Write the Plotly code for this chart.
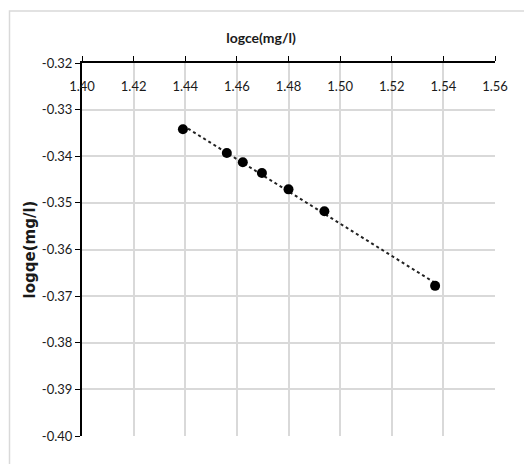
import numpy as np
import plotly.graph_objects as go

# Data
log_ce = [1.4391, 1.4561, 1.4623, 1.4697, 1.4800, 1.4939, 1.5368]
log_qe = [-0.3342, -0.3393, -0.3413, -0.3436, -0.3471, -0.3518, -0.3678]
x_ticks = [1.40, 1.42, 1.44, 1.46, 1.48, 1.50, 1.52, 1.54, 1.56]
y_ticks = [-0.32, -0.33, -0.34, -0.35, -0.36, -0.37, -0.38, -0.39, -0.40]

# Linear trendline (fitted from the data)
slope, intercept = np.polyfit(log_ce, log_qe, 1)
trend_x = [min(log_ce), max(log_ce)]
trend_y = [slope * v + intercept for v in trend_x]

OFF = 8  # default page body margin
W, H = 532 - 2 * OFF, 472 - 2 * OFF
# plot area in page pixels: x 82..495, y 63..436
L, T = 82 - OFF, 63 - OFF
PW, PH = 413, 373
R, B = W - L - PW, H - T - PH

TICK_FONT = "Lato, Open Sans, sans-serif"
TXT = "#1a1a1a"

fig = go.Figure()
fig.add_trace(go.Scatter(x=trend_x, y=trend_y, mode="lines",
                         line=dict(color="#222222", width=2, dash="dot"),
                         showlegend=False, hoverinfo="skip"))
fig.add_trace(go.Scatter(x=log_ce, y=log_qe, mode="markers",
                         marker=dict(color="black", size=10),
                         showlegend=False))

def px_x(p):  # page pixel -> paper
    return (p - OFF - L) / PW

def px_y(p):
    return (T + PH - (p - OFF)) / PH

fig.update_layout(
    width=W, height=H,
    margin=dict(l=L, r=R, t=T, b=B, autoexpand=False),
    paper_bgcolor="white", plot_bgcolor="white",
    font=dict(family=TICK_FONT, size=13, color=TXT),
    title=dict(text="<b>logce(mg/l)</b>", xref="container", yref="container",
               x=(261 - OFF) / W, y=1 - (38 - OFF) / H,
               xanchor="center", yanchor="middle",
               font=dict(family=TICK_FONT, size=14, color=TXT)),
    xaxis=dict(range=[1.40, 1.56], side="top", tickvals=x_ticks,
               ticktext=[f"{v:.2f}" for v in x_ticks],
               ticklabelposition="inside", ticklabelstandoff=19,
               ticklabeloverflow="allow", automargin=False,
               ticks="outside", ticklen=5, tickcolor="black", tickwidth=1,
               showline=True, linecolor="black", linewidth=2,
               showgrid=True, gridcolor="#d9d9d9", gridwidth=1.5,
               zeroline=False, tickfont=dict(family=TICK_FONT, size=13, color=TXT)),
    yaxis=dict(range=[-0.40, -0.32], tickvals=y_ticks,
               ticktext=[f"{v:.2f}" for v in y_ticks],
               ticklabeloverflow="allow", automargin=False,
               ticks="outside", ticklen=5, tickcolor="black", tickwidth=1,
               showline=True, linecolor="black", linewidth=2,
               showgrid=True, gridcolor="#d9d9d9", gridwidth=1.5,
               zeroline=False,
               title=dict(text="<b>logqe(mg/l)</b>", standoff=3,
                          font=dict(family="DejaVu Sans", size=15, color=TXT)),
               tickfont=dict(family=TICK_FONT, size=13, color=TXT)),
    shapes=[dict(type="rect", xref="paper", yref="paper",
                 x0=px_x(9.5), x1=px_x(560), y0=px_y(500), y1=px_y(11),
                 line=dict(color="#d9d9d9", width=1.5), layer="below")],
)

fig.write_html("out.html")
